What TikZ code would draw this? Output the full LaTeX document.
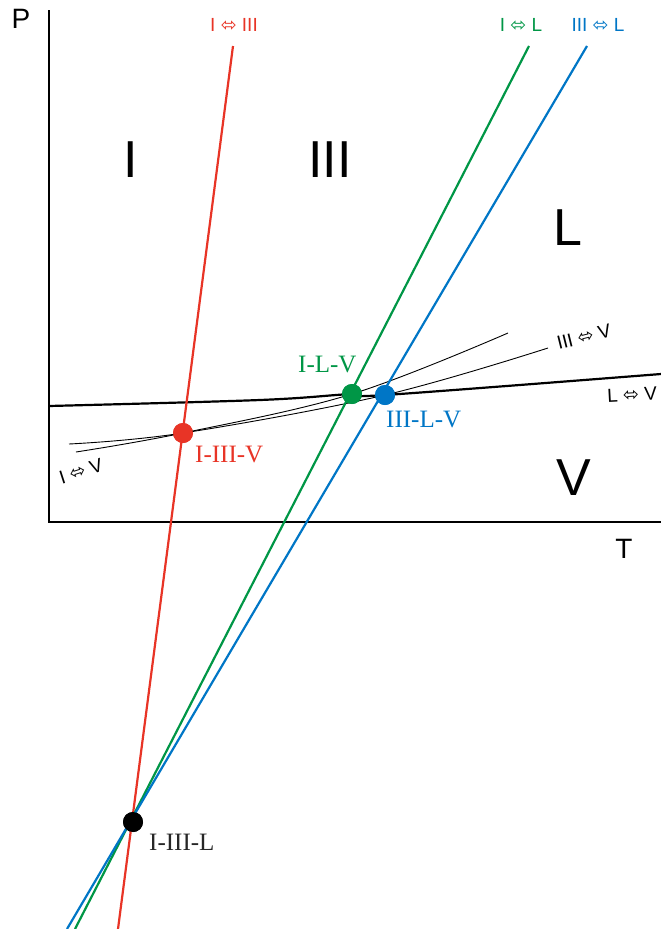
\documentclass[tikz,border=0pt]{standalone}
\usepackage{fontspec}
\setmainfont{Liberation Serif}
\setsansfont{Liberation Sans}
\newfontfamily\arrowfont{DejaVu Sans}
\definecolor{cred}{RGB}{232,52,38}
\definecolor{cgreen}{RGB}{0,150,70}
\definecolor{cblue}{RGB}{0,118,198}
\newcommand{\arr}{{\arrowfont\char"2B04}}
\begin{document}
\begin{tikzpicture}[x=1pt,y=-1pt,
  dotnode/.style={circle,inner sep=0pt,minimum size=20pt},
  biglbl/.style={font=\sffamily\fontsize{52}{52}\selectfont},
  axlbl/.style={font=\sffamily\fontsize{28}{28}\selectfont},
  eqlbl/.style={font=\sffamily\fontsize{19}{19}\selectfont,inner sep=0pt},
  ptlbl/.style={font=\fontsize{25}{25}\selectfont,inner sep=0pt,anchor=west},
  phaseline/.style={line width=2.2pt},
  thinline/.style={line width=0.9pt}]
\useasboundingbox (0,0) rectangle (661,929);
% axes
\coordinate (ytop) at (49,10);
\coordinate (orig) at (49,522);
\coordinate (xend) at (661,522);
\draw[line width=2pt] (ytop) -- (orig) -- (xend);
\node[axlbl] (P) at (21,19) {P};
\node[axlbl] (T) at (624,549) {T};
% region labels
\node[biglbl] (rI) at (131,160) {I};
\node[biglbl] (rIII) at (330,160) {III};
\node[biglbl] (rL) at (568,228) {L};
\node[biglbl] (rV) at (574,478) {V};
% triple points
\node[dotnode,fill=cred] (IIIIV) at (183,433) {};
\node[dotnode,fill=cgreen] (ILV) at (352,394) {};
\node[dotnode,fill=cblue] (IIILV) at (385,395) {};
\node[dotnode,fill=black] (IIIIL) at (133,822) {};
% thin metastable curves
\coordinate (ivL) at (76,452);
\coordinate (ivR) at (508,333);
\coordinate (iiivL) at (69,444);
\coordinate (iiivR) at (548,348);
\draw[thinline] plot[smooth,tension=0.6] coordinates {(ivL) (IIIIV.center) (ILV.center) (ivR)};
\draw[thinline] plot[smooth,tension=0.6] coordinates {(iiivL) (IIIIV.center) (IIILV.center) (iiivR)};
% L <-> V
\coordinate (lvL) at (49,406);
\coordinate (lvM) at (260,400);
\coordinate (lvR) at (661,374);
\draw[line width=2.2pt] plot[smooth,tension=0.6] coordinates {(lvL) (lvM) (ILV.center) (IIILV.center) (lvR)};
% coloured lines
\coordinate (rT) at (233,46);
\coordinate (rB) at (118,929);
\coordinate (gT) at (529,46);
\coordinate (gB) at (75,929);
\coordinate (bT) at (587,46);
\coordinate (bB) at (67,929);
\draw[phaseline,cred] (rT) -- (rB);
\draw[phaseline,cgreen] (gT) -- (gB);
\draw[phaseline,cblue] (bT) -- (bB);
% redraw dots on top
\node[dotnode,fill=cred] at (IIIIV) {};
\node[dotnode,fill=cgreen] at (ILV) {};
\node[dotnode,fill=cblue] at (IIILV) {};
\node[dotnode,fill=black] at (IIIIL) {};
% equilibrium labels
\node[eqlbl,text=cred] (lIIII) at (234,25) {I \arr{} III};
\node[eqlbl,text=cgreen] (lIL) at (521,25) {I \arr{} L};
\node[eqlbl,text=cblue] (lIIIL) at (598,25) {III \arr{} L};
\node[eqlbl,rotate=18] (lIV) at (81,471) {I \arr{} V};
\node[eqlbl,rotate=14] (lIIIV) at (584,337) {III \arr{} V};
\node[eqlbl,rotate=3,anchor=west] (lLV) at (607,396) {L \arr{} V};
% triple point labels
\node[ptlbl,text=cgreen] (tILV) at (298,364) {I-L-V};
\node[ptlbl,text=cblue] (tIIILV) at (386,419) {III-L-V};
\node[ptlbl,text=cred] (tIIIIV) at (195,454) {I-III-V};
\node[ptlbl,text=black!85] (tIIIIL) at (149,842) {I-III-L};
\end{tikzpicture}
\end{document}
